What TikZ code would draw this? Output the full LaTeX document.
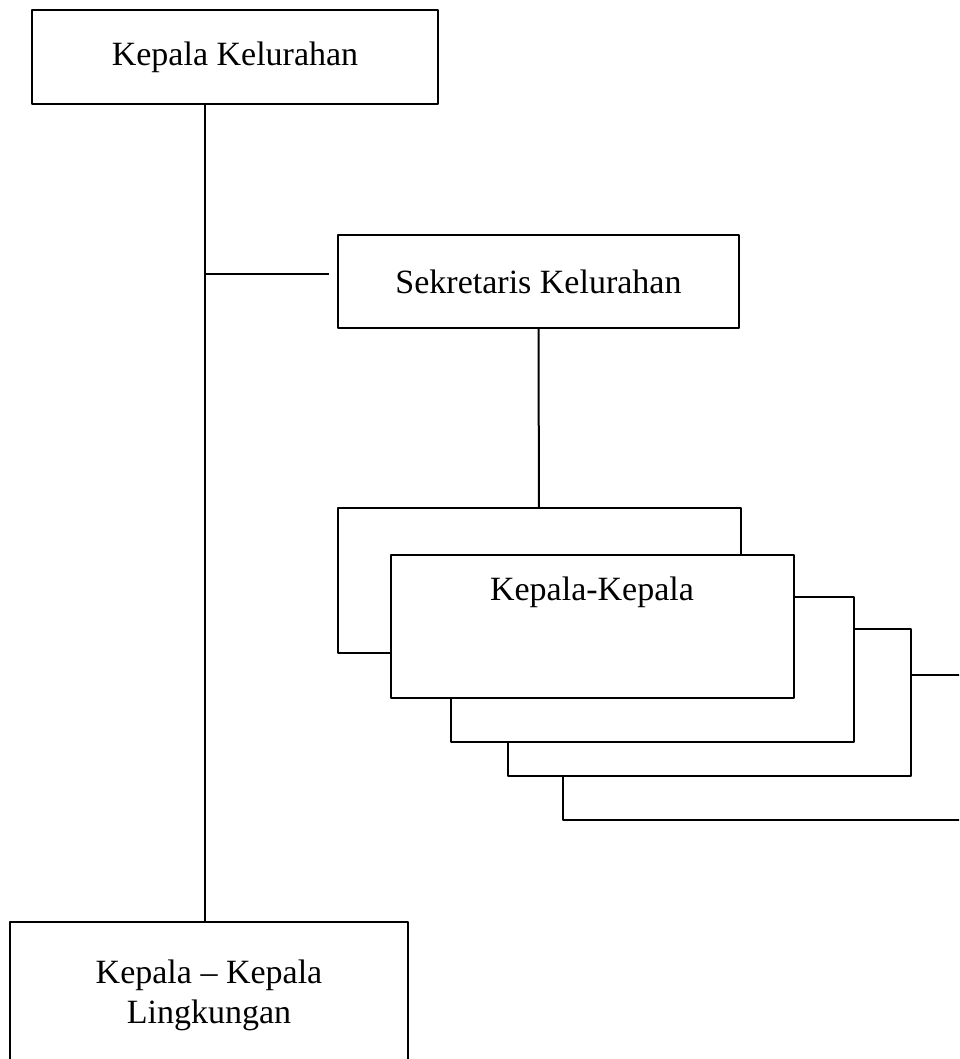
\documentclass[tikz,border=0pt]{standalone}
\usepackage{fontspec}
\setmainfont{Liberation Serif}
\usepackage{tikz}
\usetikzlibrary{calc}
\tikzset{t/.style={font=\fontsize{17}{20}\selectfont}}
\tikzset{b/.style={draw,fill=white,line width=1pt,inner sep=0pt,t,align=center}}
\tikzset{s/.style={b,minimum width=201.5pt,minimum height=72.5pt}}

\begin{document}
\begin{tikzpicture}[line join=round, x=.5pt, y=-.5pt]
  \useasboundingbox (0,0) rectangle (959,1059);
  \clip (0,0) rectangle (959,1059);
  % top
  \node[b,minimum width=203pt,minimum height=47pt] (kk) at (235,57) {Kepala Kelurahan};
  \node[b,minimum width=200.5pt,minimum height=46.5pt] (sk) at (538.5,281.5) {Sekretaris Kelurahan};
  \node[b,minimum width=199pt,minimum height=73pt] (lk) at (209,995) {Kepala -- Kepala\\Lingkungan};
  % stacked boxes, back to front
  \node[s] (e) at (764.5,747.5) {};
  \node[s,minimum height=73.5pt] (d) at (709.5,702.5) {};
  \node[s] (c) at (652.5,669.5) {};
  \node[s] (a) at (539,580.5) {};
  \node[s,minimum height=71.5pt,text height=22.5pt,text depth=49pt] (kp) at (592,626.5) {Kepala-Kepala};
  % lines
  \coordinate (tr) at ([xshift=-2pt]lk.north);
  \coordinate (j) at ([yshift=3.75pt]sk.west);
  \draw[line width=1pt] (kk.south -| tr) -- (tr);
  \draw[line width=1pt,shorten >=4pt] (j -| tr) -- (j);
  \draw[line width=1pt] (sk) -- (a);
\end{tikzpicture}
\end{document}
